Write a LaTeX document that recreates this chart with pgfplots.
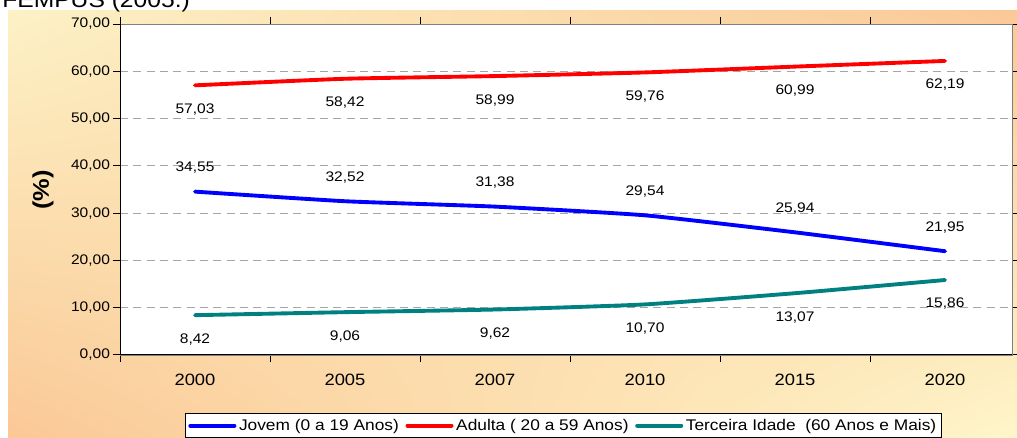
\documentclass[border=0pt]{standalone}
\usepackage{fontspec}
\setmainfont{Liberation Sans}[FakeStretch=1.12]
\usepackage{pgfplots}
\pgfplotsset{compat=1.18}
\usetikzlibrary{shadings}
\definecolor{bgY}{RGB}{252,242,198}
\definecolor{bgO}{RGB}{251,200,150}
\definecolor{bgY2}{RGB}{254,246,202}
\definecolor{jov}{RGB}{0,0,255}
\definecolor{adu}{RGB}{255,0,0}
\definecolor{ter}{RGB}{0,128,128}
\definecolor{gridc}{RGB}{165,165,165}
\begin{document}
\begin{tikzpicture}[x=0.75pt,y=0.75pt]
\useasboundingbox (0,0) rectangle (1017,-437);
\shade[upper left=bgY, upper right=bgO, lower left=bgO, lower right=bgY2] (8,-10) rectangle (1017,-437);
\node[anchor=base west, inner sep=0pt, font=\fontsize{16.5}{18}\selectfont] at (2,-7) {FEMPUS (2005.)};
\node[rotate=90, font=\fontsize{17}{18}\selectfont\bfseries] at (43,-190) {(\%)};
\begin{axis}[
  at={(90pt,-18pt)}, anchor=north west,
  scale only axis, width=669pt, height=248.25pt,
  xmin=-0.5, xmax=5.4467, ymin=0, ymax=70,
  axis background/.style={fill=white},
  axis line style={draw=gray, line width=0.6pt},
  xtick={-0.5,0.5,1.5,2.5,3.5,4.5}, xticklabels={},
  extra x ticks={0,1,2,3,4,5},
  extra x tick labels={2000,2005,2007,2010,2015,2020},
  extra x tick style={major tick length=0pt, tick style={draw=none}},
  ytick={0,10,20,30,40,50,60,70},
  yticklabels={{0,00},{10,00},{20,00},{30,00},{40,00},{50,00},{60,00},{70,00}},
  tick align=outside, major tick length=5pt,
  tick style={black, line width=0.75pt},
  xticklabel style={font=\fontsize{12.3}{14}\selectfont, yshift=-11pt},
  yticklabel style={font=\fontsize{10.4}{12}\selectfont, xshift=1pt},
  ymajorgrids, grid style={gridc, line width=0.6pt, dash pattern=on 6pt off 4pt},
  legend style={at={(0.0729,-0.1752)}, anchor=north west, draw=black, line width=0.6pt,
    fill=white, font=\fontsize{11.6}{13}\selectfont, inner sep=2.2pt,
    /tikz/every even column/.append style={column sep=3pt}},
  legend columns=3, legend cell align=left,
  every node near coord/.append style={black, anchor=center, font=\fontsize{10.4}{12}\selectfont},
  nodes near coords={\pgfmathprintnumber[fixed,fixed zerofill,precision=2,use comma,assume math mode=true]{\pgfplotspointmeta}},
]
\addplot[jov, line width=2.9pt, line cap=round, smooth, tension=0.3, mark=none,
  every node near coord/.append style={yshift=18pt},
  legend image code/.code={\draw[jov, line width=3pt] (0pt,0pt) -- (33pt,0pt);}]
  coordinates {(0,34.55) (1,32.52) (2,31.38) (3,29.54) (4,25.94) (5,21.95)};
\addlegendentry{Jovem (0 a 19 Anos)}
\addplot[adu, line width=2.9pt, line cap=round, smooth, tension=0.3, mark=none,
  every node near coord/.append style={yshift=-18pt},
  legend image code/.code={\draw[adu, line width=3pt] (0pt,0pt) -- (33pt,0pt);}]
  coordinates {(0,57.03) (1,58.42) (2,58.99) (3,59.76) (4,60.99) (5,62.19)};
\addlegendentry{Adulta ( 20 a 59 Anos)}
\addplot[ter, line width=2.9pt, line cap=round, smooth, tension=0.3, mark=none,
  every node near coord/.append style={yshift=-18pt},
  legend image code/.code={\draw[ter, line width=3pt] (0pt,0pt) -- (33pt,0pt);}]
  coordinates {(0,8.42) (1,9.06) (2,9.62) (3,10.70) (4,13.07) (5,15.86)};
\addlegendentry{Terceira Idade\ \ (60 Anos e Mais)}
\draw[black, line width=1.1pt] (rel axis cs:0,1) -- (rel axis cs:0,0) -- (rel axis cs:1,0);
\end{axis}
\end{tikzpicture}
\end{document}
